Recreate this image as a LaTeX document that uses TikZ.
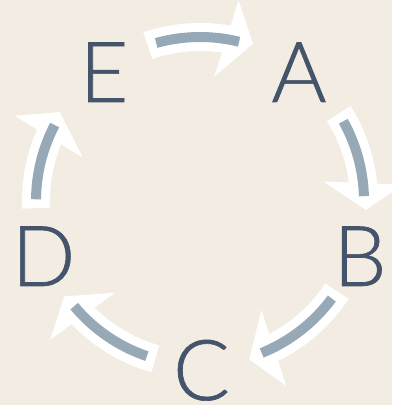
\documentclass[tikz,border=0pt]{standalone}
\usepackage{fontspec}
\IfFontExistsTF{Lato Light}{\setmainfont{Lato Light}[FakeBold=0.8]}{\setmainfont{Lato}}
\usetikzlibrary{calc}
\definecolor{bg}{HTML}{F2ECE2}
\definecolor{txt}{HTML}{44546A}
\definecolor{ln}{HTML}{97A9B7}
\newcommand\cyclearrow[2]{%
  \pgfmathsetmacro\aS{#1}\pgfmathsetmacro\aT{#2}%
  \pgfmathsetmacro\aB{#2+8.5}%
  \pgfmathsetmacro\aO{#2+7.7}\pgfmathsetmacro\aI{#2+12.1}%
  \pgfmathsetmacro\gS{#1-3.1}\pgfmathsetmacro\gE{#2+4.8}%
  \fill[band] ([shift={(O)}]\aS:178) arc[start angle=\aS,end angle=\aB,radius=178]
     -- ([shift={(O)}]\aB:150) arc[start angle=\aB,end angle=\aS,radius=150] -- cycle;
  \fill[band] ([shift={(O)}]\aO:204) -- ([shift={(O)}]\aT:166) -- ([shift={(O)}]\aI:125) -- cycle;
  \draw[core] ([shift={(O)}]\gS:164) arc[start angle=\gS,end angle=\gE,radius=164];
}
\begin{document}
\begin{tikzpicture}[x=1pt,y=1pt,
  lbl/.style={font=\fontsize{84}{84}\selectfont, text=txt, inner sep=0pt, anchor=base},
  band/.style={fill=white},
  core/.style={draw=ln, line width=10pt}]
\fill[bg] (0,0) rectangle (392,405);
\useasboundingbox (0,0) rectangle (392,405);
\coordinate (O) at (200,204);
\cyclearrow{108.6}{71.4}
\cyclearrow{32.2}{-3.1}
\cyclearrow{-33.4}{-72.7}
\cyclearrow{-105.8}{-144.9}
\cyclearrow{182.5}{147.6}
\node[lbl] (A) at (299,303) {A};
\node[lbl] (B) at (360,119) {B};
\node[lbl] (C) at (201.5,5) {C};
\node[lbl] (D) at (43.5,119) {D};
\node[lbl] (E) at (104,303) {E};
\end{tikzpicture}
\end{document}
